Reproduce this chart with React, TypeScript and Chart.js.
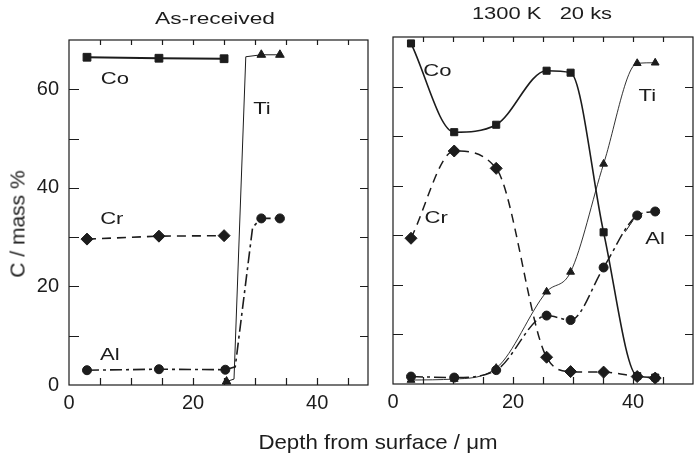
import React, { useEffect, useRef } from 'react';
import { Chart, registerables } from 'chart.js';

Chart.register(...registerables);

// ---------- Data: left panel (As-received) ----------
const leftCoDepth = [2.9, 14.5, 25.0];
const leftCo = [66.5, 66.3, 66.2];
const leftCrDepth = [2.9, 14.5, 25.0];
const leftCr = [29.6, 30.2, 30.3];
const leftAlDepth = [2.9, 14.5, 25.2, 26.8, 29.6, 31.0, 34.0];
const leftAl = [3.0, 3.2, 3.1, 3.7, 32.0, 33.8, 33.8];
const leftAlMarked = [true, true, true, false, false, true, true];
const leftTiDepth = [25.4, 26.6, 28.5, 31.0, 34.0];
const leftTi = [0.7, 1.2, 66.6, 67.0, 67.0];
const leftTiMarked = [true, false, false, true, true];

// ---------- Data: right panel (1300 K, 20 ks) ----------
const rightDepth = [3.0, 10.2, 17.2, 25.6, 29.6, 35.1, 40.7, 43.7];
const rightCo = [68.7, 50.8, 52.3, 63.2, 62.8, 30.6, 1.6, 1.3];
const rightCr = [29.4, 47.0, 43.5, 5.4, 2.5, 2.4, 1.5, 1.2];
const rightAl = [1.5, 1.3, 2.8, 13.8, 12.9, 23.5, 34.0, 34.8];
const rightTi = [0.8, 1.0, 3.2, 18.6, 22.6, 44.4, 64.7, 64.8];

// ---------- Tick labels ----------
const xTickLabels = [0, 20, 40];
const yTickLabels = [0, 20, 40, 60];

const elementNames = ['Co', 'Cr', 'Al', 'Ti'];

const FONT = '"Liberation Sans", Arial, Helvetica, sans-serif';
const INK = '#1c1c1c';

const pts = (xs: number[], ys: number[]) => xs.map((x, i) => ({ x, y: ys[i] }));

type Label = { text: string; x: number; y: number };

function framePlugin(xMax: number, labels: Label[], leaders: number[][]) {
  return {
    id: 'frameTicks',
    afterDatasetsDraw(chart: any) {
      const { ctx, chartArea: a, scales } = chart;
      const x = scales.x;
      const y = scales.y;
      ctx.save();
      ctx.strokeStyle = INK;
      ctx.lineWidth = 1.2;
      ctx.strokeRect(a.left, a.top, a.right - a.left, a.bottom - a.top);
      ctx.beginPath();
      for (let v = 10; v < 70; v += 10) {
        const py = Math.round(y.getPixelForValue(v)) + 0.5;
        ctx.moveTo(a.left, py);
        ctx.lineTo(a.left + 10, py);
        ctx.moveTo(a.right, py);
        ctx.lineTo(a.right - 8, py);
      }
      for (let v = 5; v < xMax; v += 5) {
        const px = Math.round(x.getPixelForValue(v)) + 0.5;
        ctx.moveTo(px, a.bottom);
        ctx.lineTo(px, a.bottom - 7);
        ctx.moveTo(px, a.top);
        ctx.lineTo(px, a.top + 5);
      }
      ctx.stroke();
      // leader lines
      ctx.lineWidth = 1;
      for (const l of leaders) {
        ctx.beginPath();
        ctx.moveTo(x.getPixelForValue(l[0]), y.getPixelForValue(l[1]));
        ctx.lineTo(x.getPixelForValue(l[2]), y.getPixelForValue(l[3]));
        ctx.stroke();
      }
      // element labels
      ctx.fillStyle = INK;
      ctx.font = `17px ${FONT}`;
      ctx.textAlign = 'center';
      ctx.textBaseline = 'middle';
      for (const lb of labels) {
        ctx.save();
        ctx.translate(x.getPixelForValue(lb.x), y.getPixelForValue(lb.y));
        ctx.scale(1.3, 1);
        ctx.fillText(lb.text, 0, 0);
        ctx.restore();
      }
      ctx.restore();
    },
  };
}

function buildConfig(opts: {
  datasets: any[];
  xMax: number;
  yAxisWidth: number;
  xAxisHeight: number;
  padTop: number;
  padRight: number;
  showY: boolean;
  labels: Label[];
  leaders: number[][];
}): any {
  return {
    type: 'line',
    data: { datasets: opts.datasets },
    options: {
      responsive: false,
      animation: false,
      devicePixelRatio: 1,
      events: [],
      layout: { padding: { top: opts.padTop, right: opts.padRight, left: 0, bottom: 0 } },
      plugins: { legend: { display: false }, tooltip: { enabled: false }, title: { display: false } },
      scales: {
        x: {
          type: 'linear',
          min: 0,
          max: opts.xMax,
          grid: { display: false, drawTicks: false },
          border: { display: false },
          ticks: {
            stepSize: 20,
            includeBounds: false,
            autoSkip: false,
            maxRotation: 0,
            padding: 6,
            color: INK,
            font: { family: FONT, size: 20 },
            callback: (v: number) => (xTickLabels.includes(v) ? String(v) : ''),
          },
          afterFit: (s: any) => {
            s.height = opts.xAxisHeight;
          },
        },
        y: {
          type: 'linear',
          min: 0,
          max: 70,
          grid: { display: false, drawTicks: false },
          border: { display: false },
          ticks: {
            display: opts.showY,
            stepSize: 20,
            includeBounds: false,
            padding: 10,
            color: INK,
            font: { family: FONT, size: 20 },
            callback: (v: number) => (yTickLabels.includes(v) ? String(v) : ''),
          },
          afterFit: (s: any) => {
            s.width = opts.yAxisWidth;
          },
        },
      },
    },
    plugins: [framePlugin(opts.xMax, opts.labels, opts.leaders)],
  };
}

const base = {
  borderColor: INK,
  backgroundColor: INK,
  pointBackgroundColor: INK,
  pointBorderColor: INK,
  pointBorderWidth: 1,
  fill: false,
};

function leftConfig() {
  const datasets = [
    {
      ...base,
      label: elementNames[0],
      data: pts(leftCoDepth, leftCo),
      borderWidth: 2,
      pointStyle: 'rect',
      pointRadius: 5.5,
      tension: 0,
    },
    {
      ...base,
      label: elementNames[1],
      data: pts(leftCrDepth, leftCr),
      borderWidth: 1.6,
      borderDash: [9, 6],
      pointStyle: 'rectRot',
      pointRadius: 6,
      tension: 0,
    },
    {
      ...base,
      label: elementNames[2],
      data: pts(leftAlDepth, leftAl),
      borderWidth: 1.6,
      borderDash: [12, 4, 3, 4],
      pointStyle: 'circle',
      pointRadius: leftAlMarked.map((m) => (m ? 4.5 : 0)),
      tension: 0,
    },
    {
      ...base,
      label: elementNames[3],
      data: pts(leftTiDepth, leftTi),
      borderWidth: 1,
      pointStyle: 'triangle',
      pointRadius: leftTiMarked.map((m) => (m ? 5 : 0)),
      tension: 0,
    },
  ];
  return buildConfig({
    datasets,
    xMax: 48.2,
    yAxisWidth: 69,
    xAxisHeight: 71,
    padTop: 40,
    padRight: 12,
    showY: true,
    labels: [
      { text: 'Co', x: 7.4, y: 62 },
      { text: 'Ti', x: 31.1, y: 56 },
      { text: 'Cr', x: 6.9, y: 33.7 },
      { text: 'Al', x: 6.6, y: 6.1 },
    ],
    leaders: [],
  });
}

function rightConfig() {
  const common = { ...base, cubicInterpolationMode: 'monotone' };
  const datasets = [
    {
      ...common,
      label: elementNames[0],
      data: pts(rightDepth, rightCo),
      borderWidth: 1.6,
      pointStyle: 'rect',
      pointRadius: 5,
    },
    {
      ...common,
      label: elementNames[1],
      data: pts(rightDepth, rightCr),
      borderWidth: 1.5,
      borderDash: [9, 6],
      pointStyle: 'rectRot',
      pointRadius: 6,
    },
    {
      ...common,
      label: elementNames[2],
      data: pts(rightDepth, rightAl),
      borderWidth: 1.5,
      borderDash: [12, 4, 3, 4],
      pointStyle: 'circle',
      pointRadius: 4.5,
    },
    {
      ...common,
      label: elementNames[3],
      data: pts(rightDepth, rightTi),
      borderWidth: 0.9,
      pointStyle: 'triangle',
      pointRadius: 4.5,
    },
  ];
  return buildConfig({
    datasets,
    xMax: 50,
    yAxisWidth: 13,
    xAxisHeight: 72,
    padTop: 37,
    padRight: 1,
    showY: false,
    labels: [
      { text: 'Co', x: 7.4, y: 63 },
      { text: 'Ti', x: 42.4, y: 58 },
      { text: 'Cr', x: 7.2, y: 33.4 },
      { text: 'Al', x: 43.7, y: 29.2 },
    ],
    leaders: [[38.7, 30.7, 40.0, 33.0]],
  });
}

function textStyle(cx: number, top: number, size: number, sx: number): React.CSSProperties {
  return {
    position: 'absolute',
    left: cx,
    top,
    fontFamily: FONT,
    fontSize: size,
    lineHeight: `${size}px`,
    color: INK,
    whiteSpace: 'pre',
    transform: `translateX(-50%) scaleX(${sx})`,
  };
}

export default function App() {
  const leftRef = useRef<HTMLCanvasElement>(null);
  const rightRef = useRef<HTMLCanvasElement>(null);

  useEffect(() => {
    document.body.style.margin = '0';
    const c1 = new Chart(leftRef.current as HTMLCanvasElement, leftConfig());
    const c2 = new Chart(rightRef.current as HTMLCanvasElement, rightConfig());
    return () => {
      c1.destroy();
      c2.destroy();
    };
  }, []);

  return (
    <div style={{ position: 'relative', width: 694, height: 456, overflow: 'hidden', background: '#fff' }}>
      <canvas ref={leftRef} width={380} height={456} style={{ position: 'absolute', left: 0, top: 0 }} />
      <canvas ref={rightRef} width={320} height={456} style={{ position: 'absolute', left: 380, top: 0 }} />
      <div style={textStyle(215, 11, 16, 1.42)}>As-received</div>
      <div style={textStyle(542, 6, 16, 1.37)}>{'1300 K   20 ks'}</div>
      <div style={textStyle(378, 431, 21, 1.06)}>Depth from surface / μm</div>
      <div
        style={{
          position: 'absolute',
          left: 17,
          top: 224,
          fontFamily: FONT,
          fontSize: 21,
          lineHeight: '21px',
          color: INK,
          whiteSpace: 'nowrap',
          transform: 'translate(-50%, -50%) rotate(-90deg)',
        }}
      >
        C / mass %
      </div>
    </div>
  );
}
